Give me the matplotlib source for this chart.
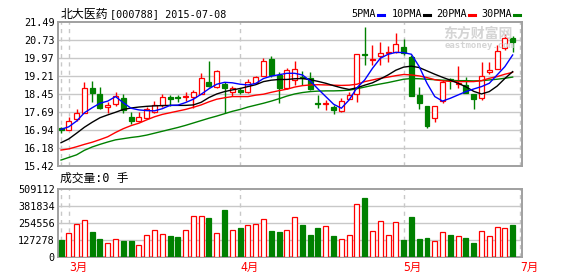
import numpy as np
import matplotlib.pyplot as plt
from matplotlib.patches import Rectangle
from matplotlib.lines import Line2D

plt.rcParams['font.family'] = ['DejaVu Sans Mono', 'Noto Sans CJK SC']

# daily candles, 2015-03 .. 2015-07
opens = [17.01, 16.93, 17.38, 17.66, 18.69, 18.46, 17.92, 18.02, 18.27, 17.47,
         17.31, 17.43, 17.70, 17.99, 18.34, 18.31, 18.34, 18.34, 18.45, 18.97,
         18.76, 18.87, 18.55, 18.62, 18.55, 18.90, 19.21, 19.92, 19.25, 18.69,
         19.04, 19.18, 19.13, 18.08, 18.04, 17.90, 17.73, 18.24, 18.44, 20.12,
         19.89, 20.05, 20.17, 20.23, 20.41, 19.99, 18.41, 17.96, 17.43, 18.15,
         19.06, 18.88, 18.83, 18.46, 18.27, 19.36, 19.50, 20.40, 20.82]
closes = [16.93, 17.33, 17.64, 18.69, 18.50, 17.87, 17.97, 18.38, 17.78, 17.33,
          17.47, 17.80, 17.97, 18.34, 18.24, 18.27, 18.38, 18.52, 19.11, 18.80,
          19.42, 18.71, 18.69, 18.52, 18.97, 19.15, 19.84, 19.25, 18.71, 19.46,
          19.50, 19.11, 18.64, 18.04, 18.08, 17.78, 18.15, 18.41, 20.12, 20.07,
          19.93, 20.19, 20.21, 20.54, 20.16, 18.36, 18.06, 17.12, 17.94, 18.97,
          19.02, 18.92, 18.48, 18.24, 19.22, 19.44, 20.26, 20.82, 20.65]
highs = [17.05, 17.49, 17.82, 18.95, 18.99, 18.73, 18.12, 18.52, 18.44, 17.68,
         17.68, 17.89, 18.15, 18.44, 18.41, 18.41, 18.52, 18.62, 19.32, 19.85,
         19.46, 18.97, 18.80, 18.69, 19.07, 19.21, 19.95, 20.06, 19.36, 19.53,
         19.84, 19.42, 19.38, 18.41, 18.20, 17.99, 18.29, 18.55, 20.12, 21.28,
         20.51, 20.65, 20.48, 21.00, 20.76, 20.09, 18.76, 17.96, 17.94, 19.04,
         19.11, 19.64, 19.18, 18.46, 19.78, 19.81, 20.51, 20.96, 20.90]
lows = [16.80, 16.92, 17.33, 17.66, 18.12, 17.80, 17.64, 17.93, 17.64, 17.17,
        17.29, 17.40, 17.64, 17.92, 17.94, 18.10, 18.15, 17.85, 18.45, 18.76,
        18.69, 17.64, 18.36, 18.45, 18.50, 18.86, 19.21, 19.18, 18.06, 18.66,
        18.83, 18.83, 18.62, 17.87, 17.78, 17.59, 17.71, 18.24, 18.10, 19.67,
        19.67, 19.67, 19.81, 20.16, 20.10, 18.36, 17.82, 17.03, 17.26, 18.06,
        18.66, 18.69, 18.48, 17.82, 18.20, 19.30, 19.50, 20.30, 20.20]
volumes = [126600, 177000, 246000, 276000, 187000, 134000, 109000, 132000, 119000, 119000,
           94000, 162000, 200000, 170000, 157000, 149000, 200000, 306000, 306000, 294000,
           177000, 355000, 200000, 218000, 238000, 246000, 284000, 195000, 187000, 200000,
           299000, 241000, 165000, 218000, 231000, 157000, 132000, 162000, 398000, 446000,
           192000, 268000, 162000, 261000, 127000, 301000, 134000, 142000, 124000, 185000,
           165000, 155000, 142000, 104000, 192000, 155000, 223000, 216000, 241000]

ma5 = [16.96, 17.07, 17.31, 17.66, 17.87, 18.06, 18.15, 18.34, 18.08, 17.85,
       17.78, 17.75, 17.74, 17.83, 17.97, 17.98, 18.09, 18.23, 18.44, 18.67,
       18.86, 18.94, 18.92, 18.86, 18.83, 18.89, 19.10, 19.20, 19.26, 19.32,
       19.32, 19.25, 19.00, 18.66, 18.34, 18.02, 17.85, 18.20, 18.71, 19.04,
       19.53, 19.95, 20.12, 20.20, 20.19, 20.12, 19.60, 18.90, 18.34, 18.15,
       18.27, 18.41, 18.55, 18.66, 18.76, 18.90, 19.25, 19.60, 20.09]
ma10 = [16.40, 16.56, 16.80, 17.05, 17.26, 17.45, 17.57, 17.68, 17.80, 17.86,
        17.90, 17.93, 17.95, 17.96, 17.97, 17.97, 17.97, 17.99, 18.10, 18.30,
        18.45, 18.55, 18.62, 18.68, 18.76, 18.84, 18.97, 19.03, 19.06, 19.06,
        19.09, 19.10, 19.05, 18.98, 18.90, 18.80, 18.71, 18.64, 18.71, 18.82,
        18.92, 19.08, 19.25, 19.45, 19.58, 19.62, 19.56, 19.42, 19.28, 19.15,
        19.03, 18.90, 18.75, 18.56, 18.45, 18.55, 18.78, 19.10, 19.39]
ma20 = [16.09, 16.14, 16.23, 16.33, 16.42, 16.53, 16.65, 16.83, 16.99, 17.12,
        17.22, 17.36, 17.49, 17.59, 17.66, 17.73, 17.80, 17.89, 17.99, 18.12,
        18.23, 18.29, 18.34, 18.34, 18.34, 18.40, 18.44, 18.52, 18.59, 18.65,
        18.74, 18.80, 18.83, 18.84, 18.83, 18.82, 18.81, 18.82, 18.86, 18.97,
        19.04, 19.11, 19.16, 19.22, 19.27, 19.25, 19.21, 19.14, 19.05, 19.00,
        18.98, 18.97, 18.97, 18.97, 19.01, 19.11, 19.18, 19.28, 19.36]
ma30 = [15.67, 15.78, 15.89, 16.08, 16.22, 16.33, 16.43, 16.52, 16.57, 16.62,
        16.66, 16.72, 16.80, 16.88, 16.96, 17.04, 17.13, 17.23, 17.33, 17.43,
        17.52, 17.62, 17.72, 17.80, 17.90, 17.98, 18.06, 18.15, 18.25, 18.36,
        18.45, 18.51, 18.55, 18.57, 18.58, 18.58, 18.59, 18.61, 18.67, 18.74,
        18.81, 18.87, 18.93, 19.00, 19.07, 19.10, 19.09, 19.07, 19.05, 19.03,
        19.02, 19.01, 19.01, 19.00, 19.01, 19.04, 19.07, 19.11, 19.16]

price_ticks = [15.42, 16.18, 16.94, 17.69, 18.45, 19.21, 19.97, 20.73, 21.49]
vol_ticks = [0, 127278, 254556, 381834, 509112]
marker_pos = [0, 1, 23, 44, 59]
month_pos = [1, 23, 44, 59]
month_labels = ['3月', '4月', '5月', '7月']

W, H = 578, 276
RED = '#ff0000'
GREEN = '#008000'
FRAME = '#a0a0a0'
GRID = '#c8c8c8'


def fx(x):
    return x / W


def fy(y):
    return 1 - y / H


fig = plt.figure(figsize=(W / 100, H / 100), dpi=100)
left, right = 58.3, 522
ax = fig.add_axes([fx(left), fy(166), (right - left) / W, (166 - 21.7) / H])
axv = fig.add_axes([fx(left), fy(257), (right - left) / W, (257 - 189.3) / H])

x = np.arange(len(closes))
w = 0.64

for a in (ax, axv):
    a.set_xlim(-0.35, 59.2)
    for s in a.spines.values():
        s.set_color(FRAME)
        s.set_linewidth(1.4)
    for p in marker_pos:
        a.axvline(p, color=GRID, lw=1, dashes=(3, 3), zorder=1)
    a.tick_params(length=0, pad=2.5, labelsize=7.3)

# price panel
ax.set_ylim(15.42, 21.49)
ax.set_yticks(price_ticks, ['%.2f' % t for t in price_ticks])
ax.set_xticks([])
for t in price_ticks[1:-1]:
    ax.axhline(t, color=GRID, lw=1, zorder=1)

for i in x:
    o, c, h, l = opens[i], closes[i], highs[i], lows[i]
    up = c >= o
    col = RED if up else GREEN
    ax.vlines(i, l, h, color=col, lw=1, zorder=2)
    bot = min(o, c)
    ht = max(abs(c - o), 0.012)
    ax.add_patch(Rectangle((i - w / 2, bot), w, ht, facecolor='white' if up else GREEN,
                           edgecolor=col, lw=0.9, zorder=3))

ax.plot(x, ma30, color=GREEN, lw=1, zorder=4)
ax.plot(x, ma20, color=RED, lw=1, zorder=4)
ax.plot(x, ma10, color='black', lw=1, zorder=4)
ax.plot(x, ma5, color='#0000ff', lw=1, zorder=4)

# volume panel
axv.set_ylim(0, 509112)
axv.set_yticks(vol_ticks, [str(t) for t in vol_ticks])
for t in vol_ticks[1:-1]:
    axv.axhline(t, color=GRID, lw=1, zorder=1)
ups = [closes[i] >= opens[i] for i in x]
axv.bar(x, volumes, width=w, color=['white' if u else GREEN for u in ups],
        edgecolor=[RED if u else GREEN for u in ups], lw=0.9, zorder=3)
axv.set_xticks(month_pos, month_labels)
for lab in axv.get_xticklabels():
    lab.set_color(RED)
    lab.set_ha('left')
    lab.set_fontsize(8.3)

# texts
fig.text(fx(61), fy(14), '北大医药', fontsize=8.6, va='center', ha='left',
         family='Noto Sans CJK SC')
fig.text(fx(110), fy(14), '[000788] 2015-07-08', fontsize=7.3, va='center', ha='left')
fig.text(fx(60), fy(178), '成交量:0 手', fontsize=8.5, va='center', ha='left')

legend = [('5PMA', '#0000ff', 376), ('10PMA', 'black', 422),
          ('20PMA', RED, 467), ('30PMA', GREEN, 512)]
for name, col, xr in legend:
    fig.text(fx(xr), fy(14), name, fontsize=7.3, va='center', ha='right')
    fig.add_artist(Line2D([fx(xr + 1.5), fx(xr + 7.5)], [fy(14.5), fy(14.5)],
                          color=col, lw=2.2))

# watermark
fig.text(fx(443), fy(34), '东方财富网', fontsize=10, color='#d4d4d4', weight='bold',
         va='center', ha='left', family='Noto Sans CJK SC', zorder=0)
fig.text(fx(445), fy(45), 'eastmoney.com', fontsize=6.5, color='#d4d4d4', weight='bold',
         va='center', ha='left', zorder=0)

fig.savefig('out.png', dpi=100)
